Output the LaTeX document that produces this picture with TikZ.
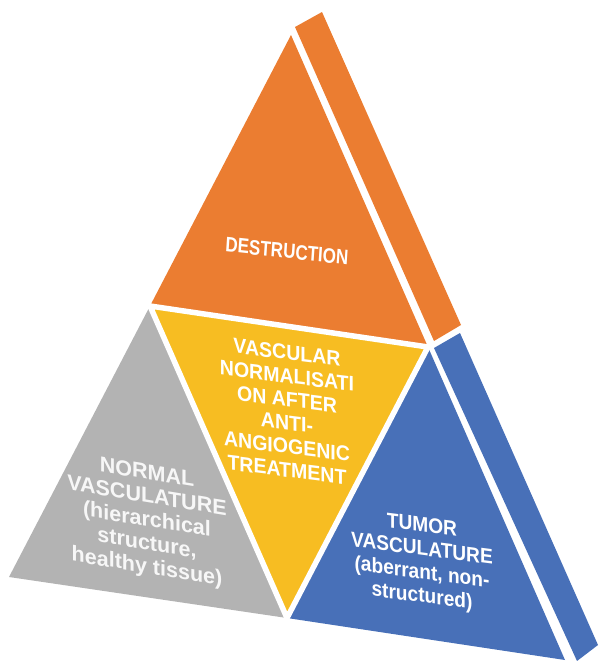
\documentclass[tikz,border=0pt]{standalone}
\usepackage{fontspec}
\setmainfont{Liberation Sans}

\definecolor{destrorange}{HTML}{EB7D31}
\definecolor{normgray}{HTML}{B3B3B3}
\definecolor{normyellow}{HTML}{F7BD22}
\definecolor{tumorblue}{HTML}{4870B8}

\begin{document}
\begin{tikzpicture}[x=1pt, y=-1pt]
    \tikzstyle{face}=[line join=round]
    \tikzstyle{gap}=[draw=white, line width=5.5pt]
    \tikzstyle{facetext}=[text=white, align=center, inner sep=0pt,
        font=\bfseries\fontsize{21}{23.5}\selectfont]

    \useasboundingbox (0,0) rectangle (598,661);

    % Corners of the front face and the midpoints of its sides
    \coordinate (A) at (291,35);
    \coordinate (B) at (9,577);
    \coordinate (C) at (565,660);
    \coordinate (AB) at (150,306);
    \coordinate (AC) at (428,347);
    \coordinate (BC) at (287,618);

    % Draw the four faces
    \fill[face, destrorange] (A) -- (AC) -- (AB) -- cycle;
    \fill[face, normgray] (AB) -- (BC) -- (B) -- cycle;
    \fill[face, normyellow] (AB) -- (AC) -- (BC) -- cycle;
    \fill[face, tumorblue] (AC) -- (C) -- (BC) -- cycle;

    % White gaps round the middle face
    \draw[gap] (AB) -- (AC) -- (BC) -- cycle;

    % Draw the side bands
    \fill[destrorange] (295,27) -- (322,12) -- (461,325) -- (434,341) -- cycle;
    \fill[tumorblue] (434,348) -- (460,333) -- (598,645) -- (577,661) -- cycle;

    % Labels of the faces, slanted with the face
    \node[facetext, yslant=-0.11, xscale=0.81, xslant=0.08] (destr) at (287,251) {DESTRUCTION};
    \node[facetext, yslant=-0.125, xscale=0.93] (vnorm) at (287,411)
        {VASCULAR\\NORMALISATI\\ON AFTER\\ANTI-\\ANGIOGENIC\\TREATMENT};
    \node[facetext, text=gray!6, yslant=-0.165, font=\bfseries\fontsize{21.5}{23.5}\selectfont] (normal) at (147,521)
        {NORMAL\\VASCULATURE\\(hierarchical\\structure,\\healthy tissue)};
    \node[facetext, yslant=-0.13, xscale=0.91] (tumor) at (422,562)
        {TUMOR\\VASCULATURE\\(aberrant, non-\\structured)};
\end{tikzpicture}
\end{document}
